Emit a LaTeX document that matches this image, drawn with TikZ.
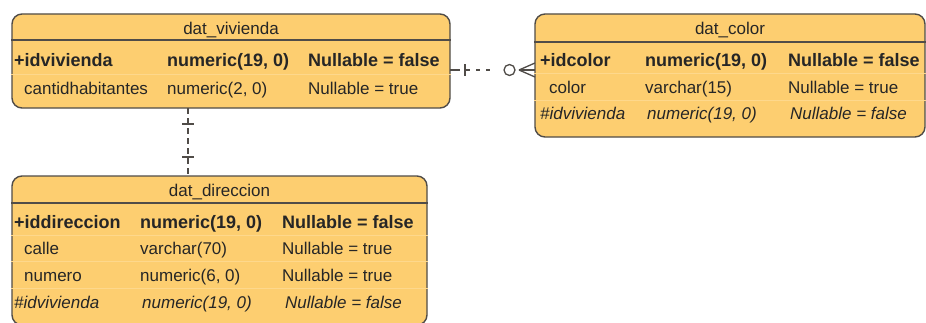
\documentclass[tikz,border=0pt]{standalone}
\usepackage{fontspec}
\setmainfont{Liberation Sans}
\definecolor{tablefill}{RGB}{253,206,112}
\definecolor{tableline}{RGB}{80,76,72}
\definecolor{rowline}{RGB}{254,216,140}
\tikzset{
  table/.style={draw=tableline,fill=tablefill,line width=1.4pt,rounded corners=10pt,inner sep=0pt},
  headline/.style={draw=tableline,line width=1.6pt},
  rowsep/.style={draw=rowline,line width=0.8pt},
  field/.style={anchor=mid west,inner sep=0pt,text=black!85,font=\fontsize{17}{20}\selectfont},
  pkey/.style={field,font=\fontsize{18}{20}\selectfont\bfseries},
  fkey/.style={field,font=\fontsize{17}{20}\selectfont\itshape},
  title/.style={field,anchor=mid},
  relation/.style={draw=tableline,line width=1.3pt},
}

\begin{document}
\begin{tikzpicture}[scale=1.000000,x=1pt,y=1pt]
\useasboundingbox (0,0) rectangle (926,322);
\fill[white] (0,0) rectangle (926,322);
% Drawing tables
% Table 1: dat_vivienda
\node[table,minimum width=438pt,minimum height=94pt] (vivienda) at (231,261) {};
\draw[headline] (vivienda.west |- 0,282) -- (vivienda.east |- 0,282);
\draw[rowsep] (vivienda.west |- 0,248) -- (vivienda.east |- 0,248);
\node[title] (vivienda-name) at (231,290) {dat\_vivienda};
\node[pkey] (vivienda-pk) at (14,258) {+idvivienda};
\node[pkey] (vivienda-pk-type) at (167,258) {numeric(19, 0)};
\node[pkey] (vivienda-pk-null) at (308,258) {Nullable = false};
\node[field] (vivienda-hab) at (24,230) {cantidhabitantes};
\node[field] (vivienda-hab-type) at (167,230) {numeric(2, 0)};
\node[field] (vivienda-hab-null) at (308,230) {Nullable = true};
% Table 2: dat_color
\node[table,minimum width=390pt,minimum height=123pt] (color) at (730,246.5) {};
\draw[headline] (color.west |- 0,280) -- (color.east |- 0,280);
\draw[rowsep] (color.west |- 0,248.5) -- (color.east |- 0,248.5);
\draw[rowsep] (color.west |- 0,222) -- (color.east |- 0,222);
\node[title] (color-name) at (730,290) {dat\_color};
\node[pkey] (color-pk) at (540,258) {+idcolor};
\node[pkey] (color-pk-type) at (645,258) {numeric(19, 0)};
\node[pkey] (color-pk-null) at (788,258) {Nullable = false};
\node[field] (color-col) at (549,231) {color};
\node[field] (color-col-type) at (645,231) {varchar(15)};
\node[field] (color-col-null) at (788,231) {Nullable = true};
\node[fkey] (color-fk) at (540,205) {\#idvivienda};
\node[fkey] (color-fk-type) at (647,205) {numeric(19, 0)};
\node[fkey] (color-fk-null) at (790,205) {Nullable = false};
% Table 3: dat_direccion
\node[table,minimum width=415pt,minimum height=149pt] (direccion) at (219.5,71.5) {};
\draw[headline] (direccion.west |- 0,119) -- (direccion.east |- 0,119);
\draw[rowsep] (direccion.west |- 0,87) -- (direccion.east |- 0,87);
\draw[rowsep] (direccion.west |- 0,60.5) -- (direccion.east |- 0,60.5);
\draw[rowsep] (direccion.west |- 0,33.5) -- (direccion.east |- 0,33.5);
\node[title] (direccion-name) at (219.5,128) {dat\_direccion};
\node[pkey] (direccion-pk) at (14,96) {+iddireccion};
\node[pkey] (direccion-pk-type) at (140,96) {numeric(19, 0)};
\node[pkey] (direccion-pk-null) at (282,96) {Nullable = false};
\node[field] (direccion-calle) at (24,70) {calle};
\node[field] (direccion-calle-type) at (140,70) {varchar(70)};
\node[field] (direccion-calle-null) at (282,70) {Nullable = true};
\node[field] (direccion-num) at (24,43) {numero};
\node[field] (direccion-num-type) at (140,43) {numeric(6, 0)};
\node[field] (direccion-num-null) at (282,43) {Nullable = true};
\node[fkey] (direccion-fk) at (14,16) {\#idvivienda};
\node[fkey] (direccion-fk-type) at (142,16) {numeric(19, 0)};
\node[fkey] (direccion-fk-null) at (285,16) {Nullable = false};
% Done with tables; drawing relations
% Relation 1: dat_vivienda 1 -- 1 dat_direccion
\coordinate (vivienda-s) at (188,214);
\coordinate (direccion-n) at (188,146);
\draw[relation,dash pattern=on 6pt off 4pt] (vivienda-s) -- (direccion-n);
\draw[relation] ([xshift=-6pt,yshift=-16pt]vivienda-s) -- ([xshift=6pt,yshift=-16pt]vivienda-s);
\draw[relation] ([xshift=-6pt,yshift=19pt]direccion-n) -- ([xshift=6pt,yshift=19pt]direccion-n);
% Relation 2: dat_vivienda 1 -- 0..* dat_color
\coordinate (vivienda-e) at (450,252);
\coordinate (color-w) at (535,252);
\coordinate (color-foot) at (519,252);
\draw[relation] (vivienda-e) -- ([xshift=10pt]vivienda-e);
\draw[relation,dash pattern=on 4pt off 6pt] ([xshift=16pt]vivienda-e) -- ([xshift=-25pt]color-foot);
\draw[relation] ([xshift=15pt,yshift=-6pt]vivienda-e) -- ([xshift=15pt,yshift=6pt]vivienda-e);
\draw[relation,fill=white] ([xshift=-9.5pt]color-foot) circle(5.5pt);
\draw[relation] (color-foot) -- ([yshift=7pt]color-w);
\draw[relation] (color-foot) -- (color-w);
\draw[relation] (color-foot) -- ([yshift=-7pt]color-w);
% Done with relations
\end{tikzpicture}
\end{document}
